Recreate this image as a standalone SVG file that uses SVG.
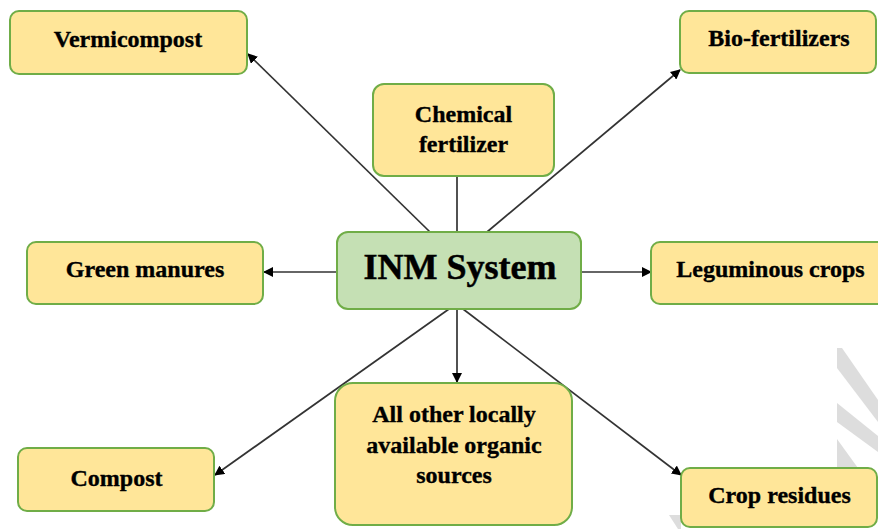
<svg xmlns="http://www.w3.org/2000/svg" width="878" height="529" viewBox="0 0 878 529">
<style>
.box{fill:#FFE699;stroke:#70AD47;stroke-width:2}
.hub{fill:#C5E0B4;stroke:#70AD47;stroke-width:2}
.t{font-family:"Liberation Serif","Times New Roman",serif;font-weight:bold;font-size:24px;fill:#000;stroke:#000;stroke-width:0.35;text-anchor:middle}
.big{font-size:36px;stroke-width:0.5}
.c{stroke:#333;stroke-width:1.7;fill:none}
.wm{fill:#dddddd}
</style>
<defs>
<marker id="ah" viewBox="0 0 10 10" refX="9" refY="5" markerWidth="10" markerHeight="10" markerUnits="userSpaceOnUse" orient="auto">
<path d="M0,0 L10,5 L0,10 z" fill="#000"/>
</marker>
</defs>
<rect width="878" height="529" fill="#fff"/>
<g id="watermark">
<polygon class="wm" points="837,348 842,348 878,400 878,422 837,368"/>
<polygon class="wm" points="837,403 878,436 878,452 837,422"/>
<polygon class="wm" points="837,439 858,468 837,468"/>
<polygon class="wm" points="669,515 680,515 681,516 681,529 678,529"/>
</g>
<g id="connectors">
<line class="c" x1="430" y1="232" x2="248" y2="54" marker-end="url(#ah)"/>
<line class="c" x1="487" y1="232" x2="680" y2="70" marker-end="url(#ah)"/>
<line class="c" x1="457" y1="176" x2="457" y2="232"/>
<line class="c" x1="337" y1="272" x2="264" y2="272" marker-end="url(#ah)"/>
<line class="c" x1="581" y1="272" x2="651" y2="272" marker-end="url(#ah)"/>
<line class="c" x1="449" y1="309" x2="215" y2="475" marker-end="url(#ah)"/>
<line class="c" x1="457" y1="309" x2="457" y2="382" marker-end="url(#ah)"/>
<line class="c" x1="463" y1="309" x2="681" y2="475" marker-end="url(#ah)"/>
</g>
<g id="vermicompost">
<rect class="box" x="10" y="11" width="237" height="63" rx="9"/>
<text class="t" x="128" y="47">Vermicompost</text>
</g>
<g id="chemical-fertilizer">
<rect class="box" x="373" y="84" width="181" height="92" rx="11"/>
<text class="t" x="463.5" y="122">Chemical</text>
<text class="t" x="463.5" y="152">fertilizer</text>
</g>
<g id="bio-fertilizers">
<rect class="box" x="680" y="11" width="196" height="62" rx="9"/>
<text class="t" x="779" y="46">Bio-fertilizers</text>
</g>
<g id="green-manures">
<rect class="box" x="27" y="242" width="236" height="62" rx="9"/>
<text class="t" x="145" y="277">Green manures</text>
</g>
<g id="inm-system">
<rect class="hub" x="337" y="232" width="244" height="77" rx="11"/>
<text class="t big" x="460" y="279">INM System</text>
</g>
<g id="leguminous-crops">
<rect class="box" x="651" y="242" width="240" height="62" rx="9"/>
<text class="t" x="770.5" y="277">Leguminous crops</text>
</g>
<g id="compost">
<rect class="box" x="18" y="448" width="196" height="63" rx="9"/>
<text class="t" x="116.5" y="486">Compost</text>
</g>
<g id="other-organic-sources">
<rect class="box" x="335" y="383" width="237" height="142" rx="18"/>
<text class="t" x="454" y="422">All other locally</text>
<text class="t" x="454" y="453">available organic</text>
<text class="t" x="454" y="483">sources</text>
</g>
<g id="crop-residues">
<rect class="box" x="681" y="468" width="196" height="59" rx="9"/>
<text class="t" x="779.5" y="503">Crop residues</text>
</g>
</svg>
